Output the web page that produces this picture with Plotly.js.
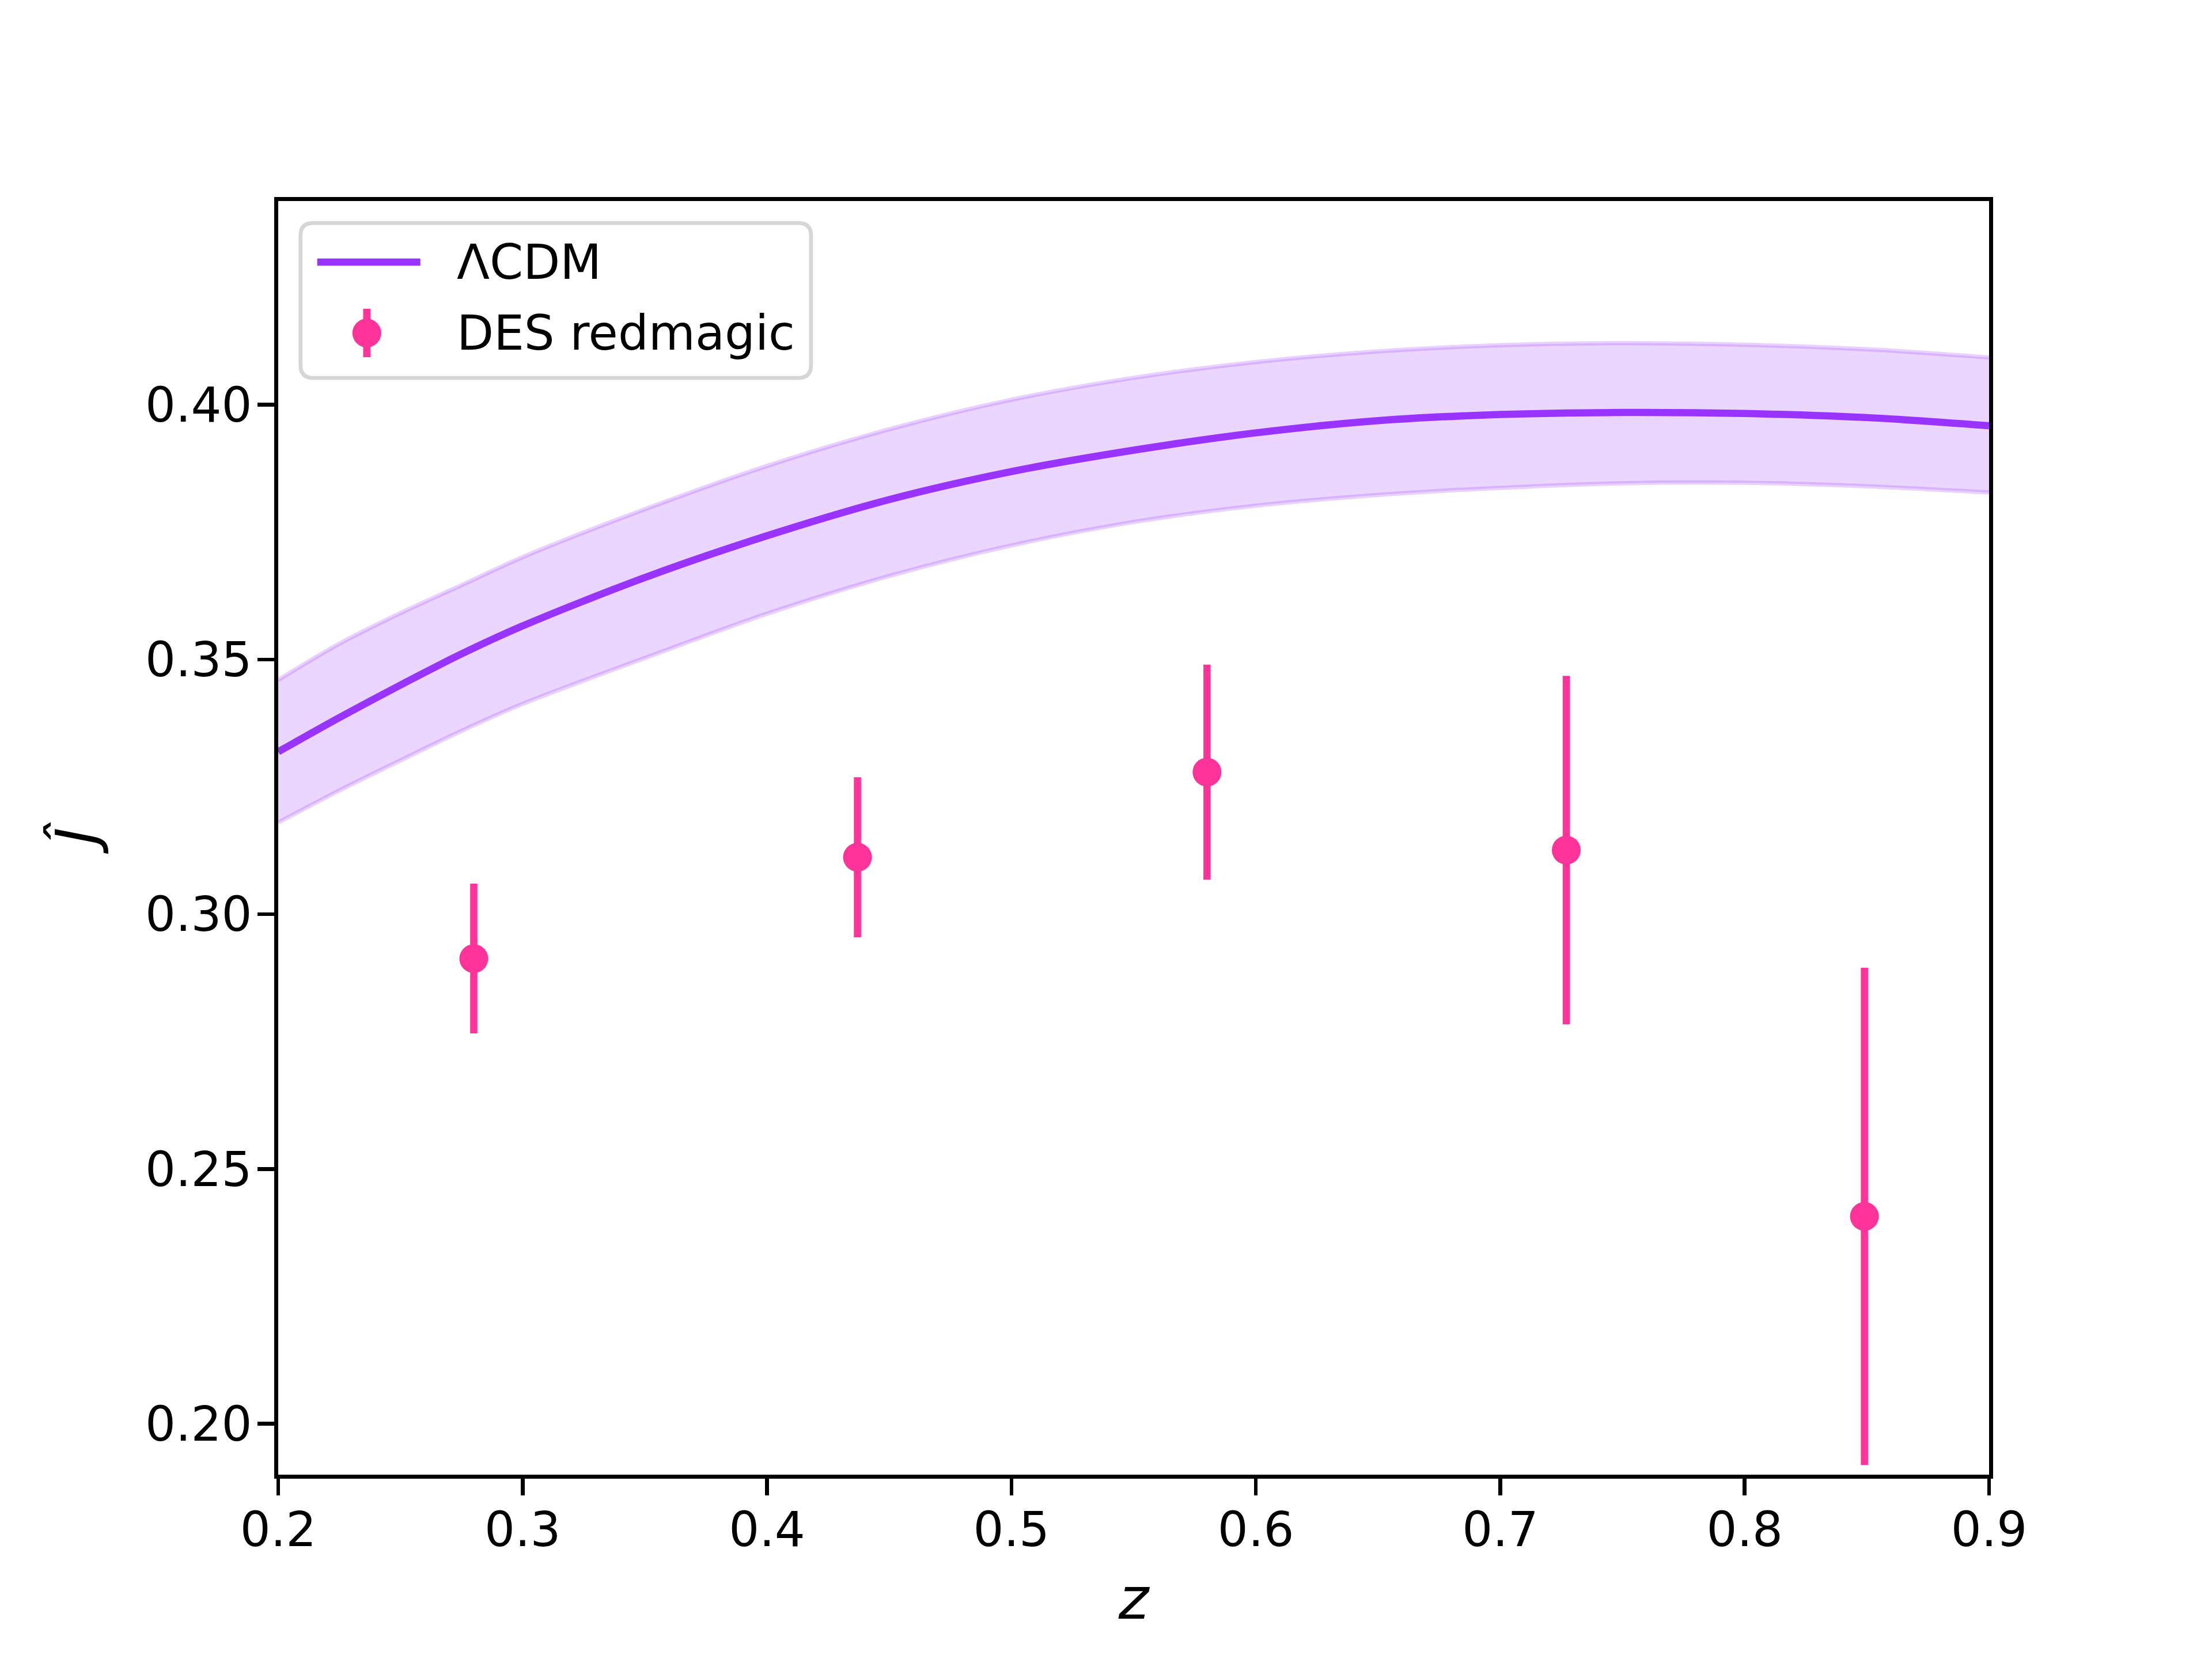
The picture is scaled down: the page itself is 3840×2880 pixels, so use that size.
<!DOCTYPE html>
<html>
<head>
<meta charset="utf-8">
<script src="https://cdn.plot.ly/plotly-3.0.1.min.js"></script>
<style>
html,body{margin:0;padding:0;background:#fff;}
#chart{width:3840px;height:2880px;}
</style>
</head>
<body>
<div id="chart"></div>
<script>
// ---- data ----
const z_model = [0.20, 0.225, 0.25, 0.275, 0.30, 0.35, 0.40, 0.45, 0.50, 0.55, 0.60, 0.65, 0.70, 0.75, 0.80, 0.85, 0.90];
const J_lcdm  = [0.3319, 0.3386, 0.3450, 0.3511, 0.3566, 0.3661, 0.3743, 0.3814, 0.3869, 0.3911, 0.3945, 0.3969, 0.3981, 0.3985, 0.3983, 0.3975, 0.3959];
const J_upper = [0.3460, 0.3531, 0.3591, 0.3646, 0.3701, 0.3795, 0.3880, 0.3952, 0.4010, 0.4053, 0.4084, 0.4105, 0.4117, 0.4121, 0.4118, 0.4109, 0.4093];
const J_lower = [0.3180, 0.3243, 0.3302, 0.3360, 0.3413, 0.3503, 0.3590, 0.3664, 0.3724, 0.3770, 0.3802, 0.3823, 0.3837, 0.3846, 0.3847, 0.3840, 0.3828];

const z_des   = [0.280, 0.437, 0.580, 0.727, 0.849];
const J_des   = [0.2913, 0.3112, 0.3279, 0.3126, 0.2407];
const J_err   = [0.0147, 0.0157, 0.0211, 0.0342, 0.0488];

const xTicks = [0.2, 0.3, 0.4, 0.5, 0.6, 0.7, 0.8, 0.9];
const yTicks = [0.20, 0.25, 0.30, 0.35, 0.40];

const labelModel = "ΛCDM";
const labelData  = "DES redmagic";
const xLabel = "<i>z</i>";
const yLabel = "<i>Ĵ</i>";

// ---- styling ----
const PURPLE = "rgb(153,51,255)";
const PINK = "#ff3399";
const PT = 600/72;          // px per point
const FONT = "DejaVu Sans, Liberation Sans, sans-serif";
const FS = 10*PT;           // tick / legend text
const FSL = 12*PT;          // axis labels
const LW = 0.8*PT;          // spine width

const W = 3840, H = 2880;
const L = 480, R = 3456, T = 345.6, B = 2563.2;
// plotly draws spines outside the plot area; shrink by half a line width
const h = LW / 2;
const pL = L + h, pR = R - h, pT = T + h, pB = B - h;
const qx = X => (X - pL) / (pR - pL);
const qy = Y => (pB - Y) / (pB - pT);

const SPL = {shape: "spline", smoothing: 0.9};
const traces = [
  {x: z_model, y: J_upper, mode: "lines", line: Object.assign({color: "rgba(153,51,255,0.22)", width: 0.9*PT}, SPL),
   hoverinfo: "skip", showlegend: false},
  {x: z_model, y: J_lower, mode: "lines", fill: "tonexty", fillcolor: "rgba(153,51,255,0.2)",
   line: Object.assign({color: "rgba(153,51,255,0.22)", width: 0.9*PT}, SPL), hoverinfo: "skip", showlegend: false},
  {x: z_model, y: J_lcdm, mode: "lines", name: labelModel, line: Object.assign({color: PURPLE, width: 1.5*PT}, SPL), showlegend: false},
  {x: z_des, y: J_des, mode: "markers", name: labelData, marker: {color: PINK, size: 6*PT},
   error_y: {type: "data", array: J_err, visible: true, thickness: 1.5*PT, width: 0, color: PINK}, showlegend: false}
];

// custom matplotlib-like legend (positions in figure pixels, converted to paper units)
const bx0 = 522, bx1 = 1408, by0 = 387, by1 = 656, rad = 22;
function rr(x0, y0, x1, y1, r) {
  const P = (X, Y) => qx(X).toFixed(5) + "," + qy(Y).toFixed(5);
  return "M" + P(x0 + r, y0) + " L" + P(x1 - r, y0) + " Q" + P(x1, y0) + " " + P(x1, y0 + r) +
         " L" + P(x1, y1 - r) + " Q" + P(x1, y1) + " " + P(x1 - r, y1) +
         " L" + P(x0 + r, y1) + " Q" + P(x0, y1) + " " + P(x0, y1 - r) +
         " L" + P(x0, y0 + r) + " Q" + P(x0, y0) + " " + P(x0 + r, y0) + " Z";
}
const mr = 3*PT;
const shapes = [
  {type: "path", xref: "paper", yref: "paper", path: rr(bx0, by0, bx1, by1, rad),
   fillcolor: "rgba(255,255,255,0.8)", line: {color: "rgba(204,204,204,0.8)", width: 0.8*PT}, layer: "above"},
  {type: "line", xref: "paper", yref: "paper", x0: qx(551), x1: qx(730), y0: qy(455), y1: qy(455),
   line: {color: PURPLE, width: 1.5*PT}, layer: "above"},
  {type: "line", xref: "paper", yref: "paper", x0: qx(637), x1: qx(637), y0: qy(536), y1: qy(620),
   line: {color: PINK, width: 1.5*PT}, layer: "above"},
  {type: "circle", xref: "paper", yref: "paper", x0: qx(637 - mr), x1: qx(637 + mr), y0: qy(578 - mr), y1: qy(578 + mr),
   fillcolor: PINK, line: {color: PINK, width: 0}, layer: "above"}
];
const annotations = [
  {xref: "paper", yref: "paper", x: qx(791), y: qy(455), text: labelModel, showarrow: false,
   xanchor: "left", yanchor: "middle", font: {family: FONT, size: FS, color: "#000"}},
  {xref: "paper", yref: "paper", x: qx(791), y: qy(578), text: labelData, showarrow: false,
   xanchor: "left", yanchor: "middle", font: {family: FONT, size: FS, color: "#000"}},
  // y-axis label (placed as in the reference)
  {xref: "paper", yref: "paper", x: qx(134), y: qy(1455), text: yLabel, showarrow: false, textangle: -90,
   xanchor: "center", yanchor: "middle", font: {family: FONT, size: FSL, color: "#000"}}
];

const axisCommon = {
  showline: true, mirror: true, linecolor: "#000", linewidth: LW,
  ticks: "outside", ticklen: 3.5*PT, tickwidth: 0.8*PT, tickcolor: "#000",
  showgrid: false, zeroline: false,
  tickfont: {family: FONT, size: FS, color: "#000"}
};

const layout = {
  width: W, height: H,
  margin: {l: pL, r: W - pR, t: pT, b: H - pB, pad: 0},
  paper_bgcolor: "#fff", plot_bgcolor: "#fff",
  showlegend: false,
  xaxis: Object.assign({}, axisCommon, {
    range: [0.2, 0.9], tickvals: xTicks, ticktext: xTicks.map(v => v.toFixed(1)),
    ticklabelstandoff: -12,
    title: {text: xLabel, font: {family: FONT, size: FSL, color: "#000"}, standoff: 40}
  }),
  yaxis: Object.assign({}, axisCommon, {
    range: [0.19, 0.44], tickvals: yTicks, ticktext: yTicks.map(v => v.toFixed(2)),
    ticklabelstandoff: -7
  }),
  shapes: shapes,
  annotations: annotations
};

Plotly.newPlot("chart", traces, layout, {staticPlot: true, displayModeBar: false});
</script>
</body>
</html>
